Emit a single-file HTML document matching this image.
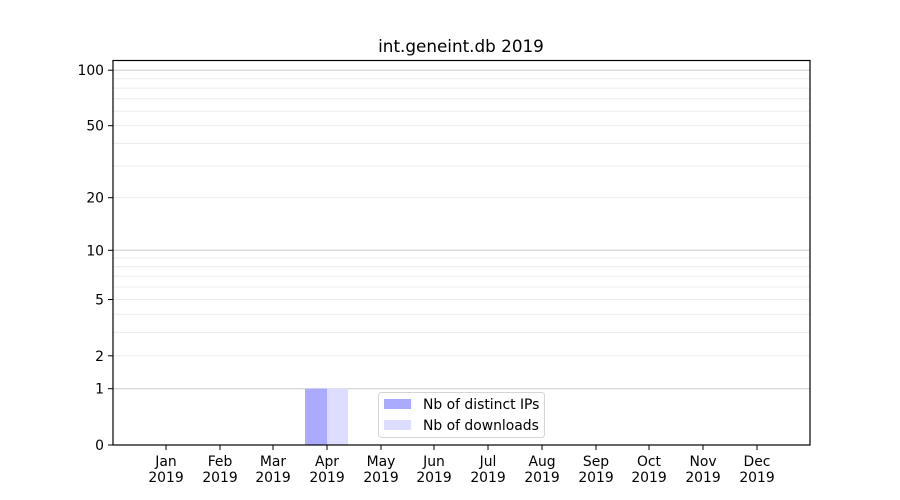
<!DOCTYPE html>
<html><head><meta charset="utf-8"><style>
html,body{margin:0;padding:0;background:#fff;}
svg{display:block;font-family:"DejaVu Sans","Liberation Sans",sans-serif;}
</style></head><body>
<svg width="900" height="500" viewBox="0 0 900 500" xmlns="http://www.w3.org/2000/svg">
<rect width="900" height="500" fill="#fff"/>
<text x="461" y="52" font-size="16.8" text-anchor="middle" fill="#000">int.geneint.db 2019</text>
<g stroke="#ebebeb" stroke-width="1">
<line x1="113" x2="810" y1="355.8" y2="355.8"/>
<line x1="113" x2="810" y1="332.4" y2="332.4"/>
<line x1="113" x2="810" y1="314.3" y2="314.3"/>
<line x1="113" x2="810" y1="299.5" y2="299.5"/>
<line x1="113" x2="810" y1="287" y2="287"/>
<line x1="113" x2="810" y1="276.1" y2="276.1"/>
<line x1="113" x2="810" y1="266.6" y2="266.6"/>
<line x1="113" x2="810" y1="258" y2="258"/>
<line x1="113" x2="810" y1="197.7" y2="197.7"/>
<line x1="113" x2="810" y1="166.1" y2="166.1"/>
<line x1="113" x2="810" y1="143.4" y2="143.4"/>
<line x1="113" x2="810" y1="125.7" y2="125.7"/>
<line x1="113" x2="810" y1="111.1" y2="111.1"/>
<line x1="113" x2="810" y1="98.8" y2="98.8"/>
<line x1="113" x2="810" y1="88.1" y2="88.1"/>
<line x1="113" x2="810" y1="78.7" y2="78.7"/>
</g>
<g stroke="#cccccc" stroke-width="1">
<line x1="113" x2="810" y1="388.7" y2="388.7"/>
<line x1="113" x2="810" y1="250.3" y2="250.3"/>
<line x1="113" x2="810" y1="70.2" y2="70.2"/>
</g>
<rect x="305" y="388.7" width="22" height="56.3" fill="#aaaaff"/>
<rect x="327" y="388.7" width="21" height="56.3" fill="#ddddff"/>
<rect x="113" y="60.5" width="697" height="384.5" fill="none" stroke="#000" stroke-width="1.2"/>
<g stroke="#000" stroke-width="1">
<line x1="108" x2="113" y1="445" y2="445"/>
<line x1="108" x2="113" y1="388.7" y2="388.7"/>
<line x1="108" x2="113" y1="355.8" y2="355.8"/>
<line x1="108" x2="113" y1="299.5" y2="299.5"/>
<line x1="108" x2="113" y1="250.3" y2="250.3"/>
<line x1="108" x2="113" y1="197.7" y2="197.7"/>
<line x1="108" x2="113" y1="125.7" y2="125.7"/>
<line x1="108" x2="113" y1="70.2" y2="70.2"/>
</g>
<g font-size="13.9" text-anchor="end" fill="#000">
<text x="104" y="450">0</text>
<text x="104" y="393.7">1</text>
<text x="104" y="360.8">2</text>
<text x="104" y="304.5">5</text>
<text x="104" y="255.3">10</text>
<text x="104" y="202.7">20</text>
<text x="104" y="130.7">50</text>
<text x="104" y="75.2">100</text>
</g>
<g stroke="#000" stroke-width="1">
<line x1="166" x2="166" y1="445" y2="450"/>
<line x1="220" x2="220" y1="445" y2="450"/>
<line x1="273" x2="273" y1="445" y2="450"/>
<line x1="327" x2="327" y1="445" y2="450"/>
<line x1="381" x2="381" y1="445" y2="450"/>
<line x1="434" x2="434" y1="445" y2="450"/>
<line x1="488" x2="488" y1="445" y2="450"/>
<line x1="542" x2="542" y1="445" y2="450"/>
<line x1="596" x2="596" y1="445" y2="450"/>
<line x1="649" x2="649" y1="445" y2="450"/>
<line x1="703" x2="703" y1="445" y2="450"/>
<line x1="757" x2="757" y1="445" y2="450"/>
</g>
<g font-size="13.9" text-anchor="middle" fill="#000">
<text x="166" y="466">Jan</text><text x="166" y="482">2019</text>
<text x="220" y="466">Feb</text><text x="220" y="482">2019</text>
<text x="273" y="466">Mar</text><text x="273" y="482">2019</text>
<text x="327" y="466">Apr</text><text x="327" y="482">2019</text>
<text x="381" y="466">May</text><text x="381" y="482">2019</text>
<text x="434" y="466">Jun</text><text x="434" y="482">2019</text>
<text x="488" y="466">Jul</text><text x="488" y="482">2019</text>
<text x="542" y="466">Aug</text><text x="542" y="482">2019</text>
<text x="596" y="466">Sep</text><text x="596" y="482">2019</text>
<text x="649" y="466">Oct</text><text x="649" y="482">2019</text>
<text x="703" y="466">Nov</text><text x="703" y="482">2019</text>
<text x="757" y="466">Dec</text><text x="757" y="482">2019</text>
</g>
<rect x="378.5" y="392.5" width="166" height="45" rx="3" fill="#fff" fill-opacity="0.85" stroke="#d5d5d5"/>
<rect x="384" y="399" width="27" height="10" fill="#aaaaff"/>
<rect x="384" y="420" width="27" height="10" fill="#ddddff"/>
<g font-size="13.9" fill="#000">
<text x="423" y="409">Nb of distinct IPs</text>
<text x="423" y="430">Nb of downloads</text>
</g>
</svg>
</body></html>
